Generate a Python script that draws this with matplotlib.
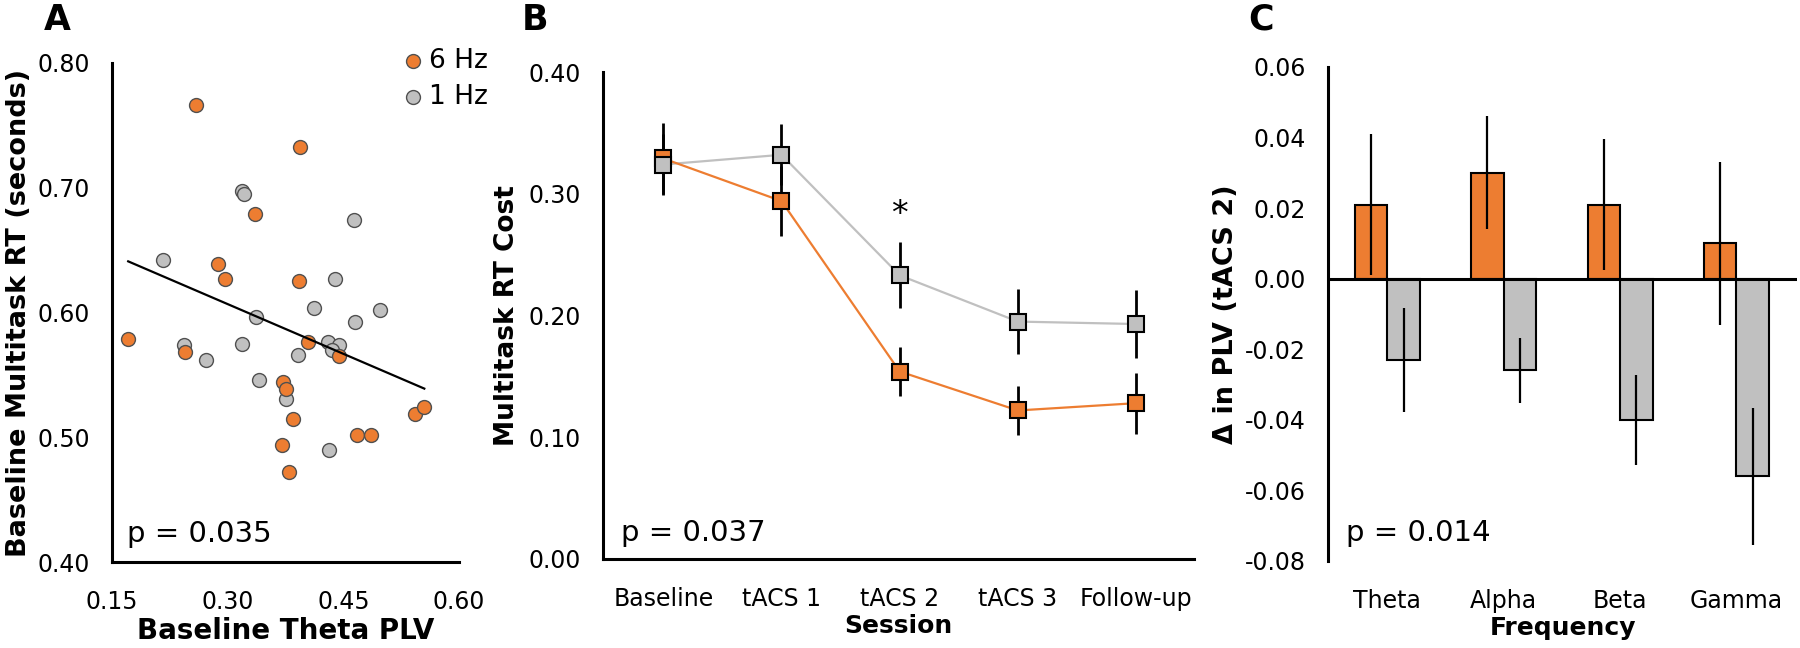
"""Three-panel figure: PLV vs RT scatter, RT cost by session, delta PLV by band."""

import matplotlib

matplotlib.use("Agg")
import matplotlib.pyplot as plt
import numpy as np
from matplotlib.ticker import FormatStrFormatter

ORANGE = "#ED7D31"
GRAY = "#C0C0C0"

# panel A: baseline theta PLV vs baseline multitask RT
a_orange_x = [0.259, 0.394, 0.335, 0.288, 0.297, 0.393, 0.171, 0.245, 0.404, 0.445,
              0.372, 0.375, 0.385, 0.543, 0.555, 0.468, 0.486, 0.371, 0.380]
a_orange_y = [0.766, 0.733, 0.679, 0.639, 0.627, 0.625, 0.579, 0.568, 0.576, 0.565,
              0.544, 0.539, 0.515, 0.519, 0.524, 0.502, 0.502, 0.494, 0.472]
a_gray_x = [0.319, 0.321, 0.464, 0.216, 0.439, 0.412, 0.498, 0.337, 0.465, 0.243,
            0.318, 0.430, 0.445, 0.435, 0.272, 0.391, 0.341, 0.375, 0.432]
a_gray_y = [0.697, 0.695, 0.674, 0.642, 0.627, 0.604, 0.602, 0.596, 0.592, 0.574,
            0.575, 0.576, 0.574, 0.570, 0.562, 0.566, 0.546, 0.531, 0.490]
a_fit_x = [0.171, 0.555]
a_fit_y = [0.641, 0.539]

# panel B: multitask RT cost per session
sessions = ["Baseline", "tACS 1", "tACS 2", "tACS 3", "Follow-up"]
b_orange = [0.329, 0.294, 0.154, 0.122, 0.128]
b_orange_err = [0.029, 0.029, 0.020, 0.020, 0.025]
b_gray = [0.324, 0.332, 0.233, 0.195, 0.193]
b_gray_err = [0.025, 0.025, 0.027, 0.027, 0.028]

# panel C: change in PLV at tACS 2
bands = ["Theta", "Alpha", "Beta", "Gamma"]
c_orange = [0.021, 0.030, 0.021, 0.010]
c_orange_err = [0.020, 0.016, 0.0186, 0.0232]
c_gray = [-0.023, -0.026, -0.040, -0.056]
c_gray_err = [0.0148, 0.0093, 0.0127, 0.0195]

TICK_FS = 17
P_FS = 21
AXIS_LW = 2.2


def px_axes(fig, x0, x1, y0, y1):
    w, h = 1800, 648
    return fig.add_axes([x0 / w, 1 - y1 / h, (x1 - x0) / w, (y1 - y0) / h])


def style(ax):
    for side in ("top", "right"):
        ax.spines[side].set_visible(False)
    for side in ("left", "bottom"):
        ax.spines[side].set_linewidth(AXIS_LW)
    ax.tick_params(axis="y", length=0, labelsize=TICK_FS, pad=16)
    ax.tick_params(axis="x", length=0, labelsize=TICK_FS, pad=20)


def panel_letter(fig, x, s):
    fig.text(x / 1800, 1 - 20 / 648, s, fontsize=25, fontweight="bold", va="center")


fig = plt.figure(figsize=(18, 6.48), dpi=100)

# ---- A
ax = px_axes(fig, 112, 459, 63, 562)
style(ax)
ax.scatter(a_gray_x, a_gray_y, s=100, color=GRAY, edgecolor="#505050", lw=1, zorder=3, label="1 Hz")
ax.scatter(a_orange_x, a_orange_y, s=100, color=ORANGE, edgecolor="#505050", lw=1, zorder=3, label="6 Hz")
ax.plot(a_fit_x, a_fit_y, color="black", lw=1.6, zorder=4)
ax.set_xlim(0.15, 0.60)
ax.set_ylim(0.40, 0.80)
ax.set_xticks([0.15, 0.30, 0.45, 0.60])
ax.set_yticks([0.40, 0.50, 0.60, 0.70, 0.80])
ax.xaxis.set_major_formatter(FormatStrFormatter("%.2f"))
ax.yaxis.set_major_formatter(FormatStrFormatter("%.2f"))
ax.set_xlabel("Baseline Theta PLV", fontsize=20, fontweight="bold", labelpad=2)
ax.set_ylabel("Baseline Multitask RT (seconds)", fontsize=19.5, fontweight="bold", labelpad=4)
handles, labels = ax.get_legend_handles_labels()
ax.legend(handles[::-1], labels[::-1], loc="upper left", bbox_to_anchor=(0.83, 1.03),
          frameon=False, fontsize=19, handletextpad=0.1, handlelength=1.0,
          borderpad=0, borderaxespad=0, labelspacing=0.38)
ax.text(0.043, 0.056, "p = 0.035", transform=ax.transAxes, fontsize=P_FS, va="center")
panel_letter(fig, 44, "A")

# ---- B
ax = px_axes(fig, 603, 1194, 72, 559)
style(ax)
xb = np.arange(len(sessions))
ax.plot(xb, b_gray, color=GRAY, lw=1.6, zorder=2)
ax.plot(xb, b_orange, color=ORANGE, lw=1.6, zorder=2)
ax.errorbar(xb, b_orange, yerr=b_orange_err, fmt="none", ecolor="black", elinewidth=2, zorder=3)
ax.errorbar(xb, b_gray, yerr=b_gray_err, fmt="none", ecolor="black", elinewidth=2, zorder=3)
ax.plot(xb, b_orange, "s", ms=11.5, mfc=ORANGE, mec="black", mew=1.5, lw=0, zorder=4)
ax.plot(xb, b_gray, "s", ms=11.5, mfc=GRAY, mec="black", mew=1.5, lw=0, zorder=5)
ax.text(xb[2], 0.283, "*", fontsize=24, ha="center", va="center")
ax.set_xlim(-0.51, 4.49)
ax.set_ylim(0, 0.40)
ax.set_xticks(xb)
ax.set_xticklabels(sessions)
ax.set_yticks([0.0, 0.1, 0.2, 0.3, 0.4])
ax.yaxis.set_major_formatter(FormatStrFormatter("%.2f"))
ax.set_xlabel("Session", fontsize=18, fontweight="bold", labelpad=2)
ax.set_ylabel("Multitask RT Cost", fontsize=19, fontweight="bold", labelpad=6)
ax.text(0.03, 0.053, "p = 0.037", transform=ax.transAxes, fontsize=P_FS, va="center")
panel_letter(fig, 522, "B")

# ---- C
ax = px_axes(fig, 1328, 1797, 67, 561)
style(ax)
ax.spines["bottom"].set_visible(False)
xc = np.arange(len(bands))
w = 0.28
ax.bar(xc - w / 2, c_orange, w, color=ORANGE, edgecolor="black", lw=1.5, zorder=2)
ax.bar(xc + w / 2, c_gray, w, color=GRAY, edgecolor="black", lw=1.5, zorder=2)
ax.errorbar(xc - w / 2, c_orange, yerr=c_orange_err, fmt="none", ecolor="black", elinewidth=1.6, zorder=3)
ax.errorbar(xc + w / 2, c_gray, yerr=c_gray_err, fmt="none", ecolor="black", elinewidth=1.6, zorder=3)
ax.axhline(0, color="black", lw=AXIS_LW, zorder=4)
ax.set_xlim(-0.51, 3.52)
ax.set_ylim(-0.08, 0.06)
ax.set_xticks(xc)
ax.set_xticklabels(bands)
ax.set_yticks(np.arange(-0.08, 0.061, 0.02))
ax.yaxis.set_major_formatter(FormatStrFormatter("%.2f"))
ax.set_xlabel("Frequency", fontsize=18, fontweight="bold", labelpad=2)
ax.set_ylabel("Δ in PLV (tACS 2)", fontsize=19.5, fontweight="bold", labelpad=4)
ax.text(0.038, 0.057, "p = 0.014", transform=ax.transAxes, fontsize=P_FS, va="center")
panel_letter(fig, 1248, "C")

fig.savefig("out.png", dpi=100)
